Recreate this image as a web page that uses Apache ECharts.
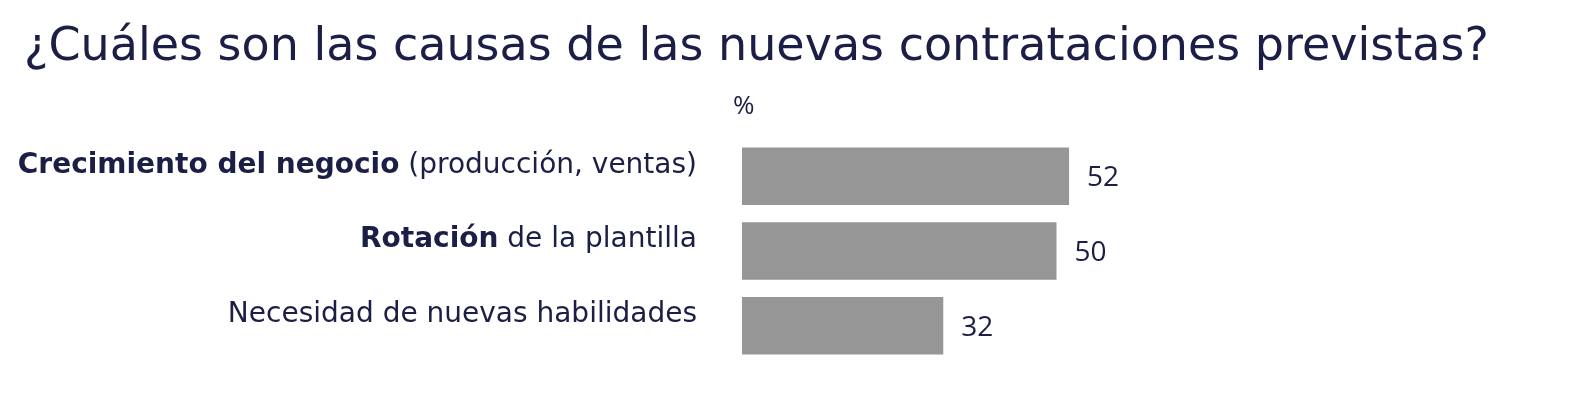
<!DOCTYPE html>
<html>
<head>
<meta charset="utf-8">
<script src="https://cdn.jsdelivr.net/npm/echarts@6/dist/echarts.min.js"></script>
<style>
html,body{margin:0;padding:0;background:#fff;}
#chart{width:1576px;height:396px;}
</style>
</head>
<body>
<div id="chart"></div>
<script>
const titleText = '¿Cuáles son las causas de las nuevas contrataciones previstas?';
const unitLabel = '%';
const categoryBold = ['Crecimiento del negocio', 'Rotación', ''];
const categoryRest = [' (producción, ventas)', ' de la plantilla', 'Necesidad de nuevas habilidades'];
const categories = categoryBold.map((b, i) => b + categoryRest[i]);
const values = [52, 50, 32];

const navy = '#1b1e45';
const chart = echarts.init(document.getElementById('chart'));
chart.setOption({
  backgroundColor: '#ffffff',
  animation: false,
  title: {
    text: titleText,
    left: 19,
    top: 20,
    textStyle: {
      fontFamily: 'DejaVu Sans',
      fontWeight: 'normal',
      fontSize: 46,
      color: navy
    }
  },
  graphic: [{
    type: 'text',
    left: 733,
    top: 94,
    style: {
      text: unitLabel,
      fontFamily: 'Open Sans',
      fontSize: 26,
      fill: navy
    }
  }],
  grid: {
    left: 742,
    top: 139,
    width: 629,
    height: 224
  },
  xAxis: {
    type: 'value',
    min: 0,
    max: 100,
    show: false
  },
  yAxis: {
    type: 'category',
    inverse: true,
    data: categories,
    axisLine: { show: false },
    axisTick: { show: false },
    axisLabel: {
      margin: 45,
      padding: [0, 0, 22, 0],
      formatter: function (v, i) {
        const b = categoryBold[i];
        const r = categoryRest[i];
        return (b ? '{b|' + b + '}' : '') + '{r|' + r + '}';
      },
      rich: {
        b: {
          fontFamily: 'DejaVu Sans',
          fontWeight: 'bold',
          fontSize: 28,
          color: navy
        },
        r: {
          fontFamily: 'DejaVu Sans',
          fontWeight: 'normal',
          fontSize: 28,
          color: navy
        }
      }
    }
  },
  series: [{
    type: 'bar',
    data: values,
    barWidth: '77%',
    itemStyle: { color: '#969696' },
    label: {
      show: true,
      position: 'right',
      distance: 18,
      offset: [0, 2],
      fontFamily: 'Open Sans',
      fontSize: 28,
      color: navy
    }
  }]
});
</script>
</body>
</html>
